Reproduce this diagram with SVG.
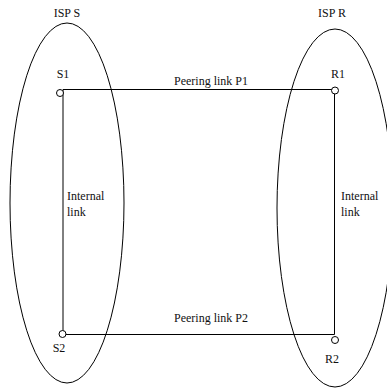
<svg xmlns="http://www.w3.org/2000/svg" width="387" height="390" viewBox="0 0 387 390">
<style>
text{font-family:'Liberation Serif','Times New Roman',serif;font-size:12px;fill:#111}
.isp{fill:none;stroke:#000;stroke-width:1}
.ln{fill:none;stroke:#000;stroke-width:1}
.nd{fill:#fff;stroke:#000;stroke-width:1}
</style>
<rect width="387" height="390" fill="#fff"/>
<g id="ispS"><ellipse class="isp" cx="67" cy="203" rx="57" ry="180"/><text x="67" y="17" text-anchor="middle">ISP S</text></g>
<g id="ispR"><ellipse class="isp" cx="335" cy="208" rx="58" ry="179"/><text x="332" y="17" text-anchor="middle">ISP R</text></g>
<g id="connectors">
<path class="ln" d="M63 89.5H335"/>
<path class="ln" d="M63 89.5V334.5"/>
<path class="ln" d="M63 334.5H334.5"/>
<path class="ln" d="M334.5 89.5V334.5" stroke="#444"/>
<text x="211" y="85" text-anchor="middle">Peering link P1</text>
<text x="211" y="322" text-anchor="middle">Peering link P2</text>
<text x="67" y="200">Internal</text>
<text x="67" y="216">link</text>
<text x="341" y="200">Internal</text>
<text x="341" y="216">link</text>
</g>
<g id="S1"><circle class="nd" cx="60" cy="93" r="3.5"/><text x="63" y="78" text-anchor="middle">S1</text></g>
<g id="R1"><circle class="nd" cx="335" cy="90.5" r="3.5"/><text x="338" y="78" text-anchor="middle">R1</text></g>
<g id="S2"><circle class="nd" cx="62.5" cy="334" r="3.5"/><text x="59" y="352" text-anchor="middle">S2</text></g>
<g id="R2"><circle class="nd" cx="335" cy="340" r="3.5"/><text x="332" y="363" text-anchor="middle">R2</text></g>
</svg>
